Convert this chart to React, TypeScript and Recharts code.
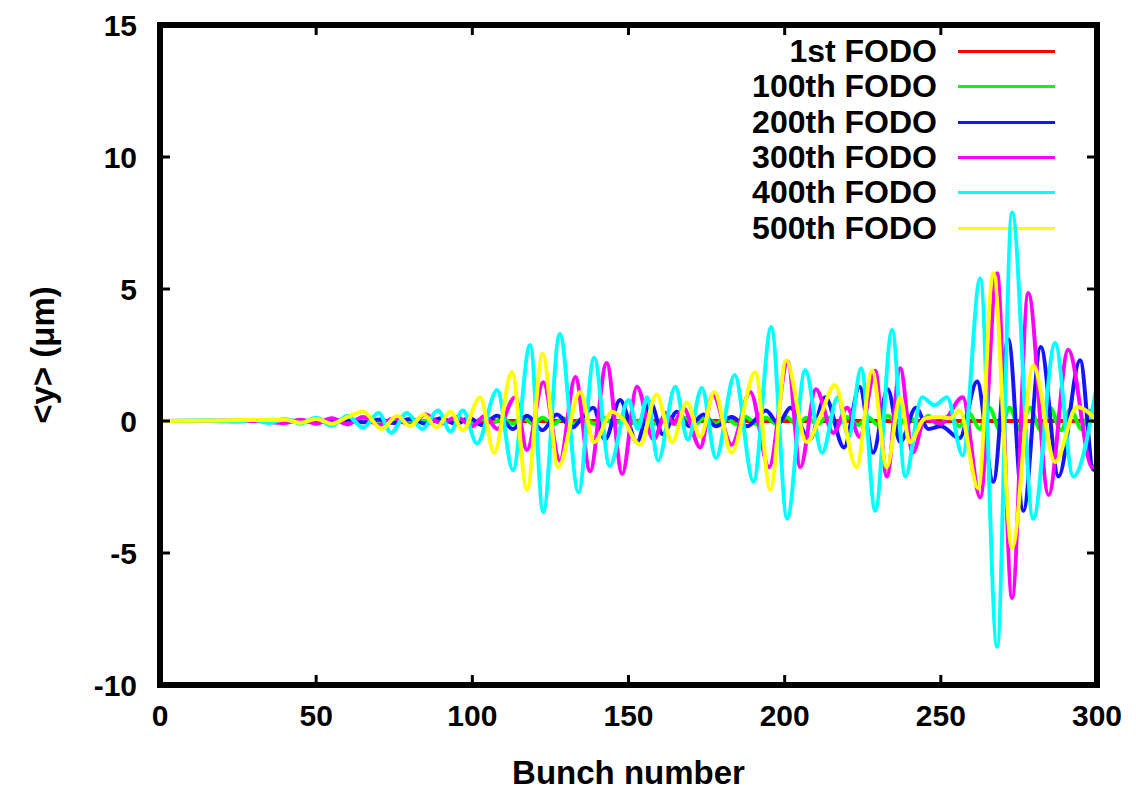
import React from "react";
import { LineChart, Line, XAxis, YAxis, Label, ReferenceLine } from "recharts";

const xTicks = [0, 50, 100, 150, 200, 250, 300];
const yTicks = [-10, -5, 0, 5, 10, 15];

const seriesNames = ["1st FODO", "100th FODO", "200th FODO", "300th FODO", "400th FODO", "500th FODO"];
const seriesColors = ["#ff0000", "#00ff00", "#1414ff", "#ff00ff", "#00ffff", "#ffff00"];

// [bunch, <y> in um]
const redPoints: [number, number][] = [[0, 0], [100, 0], [200, 0], [300, 0]];

const greenPoints: [number, number][] = [
  [0, 0], [30, 0], [60, 0.02], [80, -0.03], [90, 0.05], [93.5, -0.05], [96.5, 0.06], [100, -0.07],
  [103, 0.08], [106.5, -0.08], [109.5, 0.1], [113, -0.1], [116, 0.12], [119.5, -0.1], [122.5, 0.12],
  [126, -0.12], [129, 0.1], [132.5, -0.12], [135.5, 0.12], [139, -0.1], [142, 0.12], [145.5, -0.12],
  [148.5, 0.1], [152, -0.1], [155, 0.12], [158.5, -0.1], [161.5, 0.1], [165, -0.12], [168, 0.12],
  [171.5, -0.1], [174.5, 0.15], [178, -0.1], [181, 0.12], [184.5, -0.12], [187.5, 0.15], [191, -0.12],
  [194, 0.12], [197.5, -0.12], [200.5, 0.15], [204, -0.15], [207, 0.12], [210.5, -0.12], [213.5, 0.15],
  [217, -0.12], [220, 0.15], [223.5, -0.15], [226.5, 0.15], [230, -0.15], [233, 0.2], [236.5, -0.15],
  [239.5, 0.2], [243, -0.15], [246, 0.2], [249.5, -0.2], [252.5, 0.2], [256, -0.2], [259, 0.3],
  [262.5, -0.3], [265.5, 0.5], [269, -0.35], [272, 0.5], [275.5, -0.35], [278.5, 0.5], [282, -0.35],
  [285, 0.5], [288.5, -0.35], [291.5, 0.45], [295, -0.3], [298, 0.4], [300, 0.2],
];

const bluePoints: [number, number][] = [
  [0, 0], [40, 0.02], [50, -0.03], [60, 0.05], [65, -0.05], [70, 0.06], [75, -0.08], [80, 0.08],
  [85, -0.1], [90, 0.1], [95, -0.12], [99, 0.12], [103, -0.15], [108, 0.2], [113, -0.3], [117.5, 0.2],
  [122.5, -0.35], [127, 0.25], [132, -0.25], [135, 0.1], [138.7, 0.5], [142.5, -0.7], [147.3, 0.8],
  [152.7, -0.8], [157, 0.7], [161, -0.5], [165.5, 0.35], [169.5, -0.2], [174, 0.25], [178, -0.2],
  [183, 0.15], [188, -0.2], [194, 0.4], [198, -0.1], [201.8, 0.5], [208, -0.7], [213, 0.9], [219, -1.0],
  [224, 1.3], [228.3, -1.2], [233, 1.2], [237, -0.8], [242, 0.5], [246, -0.3], [250, -0.2], [256, -0.65],
  [261.6, 1.5], [266.8, -2.3], [271.6, 3.1], [276.4, -3.4], [282, 2.8], [287.7, -2.1], [294.6, 2.3],
  [298.9, -1.85], [300, -1.7],
];

const magentaPoints: [number, number][] = [
  [0, 0], [30, 0], [40, -0.08], [45, 0.05], [50, -0.1], [55, 0.1], [60, -0.12], [65, 0.15], [70, -0.15],
  [75, 0.1], [80, -0.15], [85, 0.25], [90, -0.1], [95, 0.15], [100, -0.2], [104, 0.2], [108, -0.3],
  [113.7, 0.9], [117.5, -1.1], [122.7, 1.47], [128, -1.5], [133, 1.67], [137.7, -1.9], [143, 2.2],
  [148, -2.0], [152.7, 1.3], [158, -0.7], [162, 0.3], [164.5, -0.1], [167.5, 0.5], [173, -1.0],
  [177, 1.0], [183, -0.9], [189, 1.1], [195, -1.75], [201, 2.25], [205, -1.75], [210, 1.2],
  [215.6, -0.45], [220, 0.5], [224, -0.6], [229, 1.9], [232.7, -2.1], [237, 2.0], [241, -1.2],
  [245, 0.1], [250, -0.1], [257, 0.9], [262.6, -2.9], [268, 5.6], [272.8, -6.7], [278, 4.85],
  [284.5, -2.8], [290.8, 2.7], [298.5, -1.75], [300, -1.6],
];

const cyanPoints: [number, number][] = [
  [0, 0], [15, 0.02], [25, -0.03], [30, 0.05], [35, -0.08], [40, 0.08], [45, -0.1], [50, 0.12],
  [55, -0.18], [60, 0.2], [65, -0.25], [70, 0.3], [74, -0.45], [79, 0.3], [84, -0.3], [89, 0.4],
  [93, -0.4], [97, 0.4], [101.5, -0.85], [108, 1.17], [113, -1.86], [118.5, 2.88], [122.7, -3.45],
  [128, 3.3], [134, -2.7], [139, 2.4], [144, -1.7], [150, 0.8], [153, -0.3], [156, 0.9], [159.5, -1.5],
  [165, 1.3], [169, -0.7], [173.5, 1.25], [178, -1.4], [184, 1.74], [190, -2.3], [195.7, 3.56],
  [200.8, -3.7], [206.6, 1.93], [212, -1.2], [217, 0.9], [220.5, -0.6], [224.5, 2.0], [229, -3.4],
  [234.4, 3.45], [238.6, -2.1], [244, 0.9], [248, 0.6], [252, 0.9], [257, -1.3], [262.6, 5.4],
  [268, -8.55], [272.8, 7.9], [279.6, -3.7], [286.6, 2.95], [292.4, -2.1], [300, 1.4],
];

const yellowPoints: [number, number][] = [
  [0, 0], [20, 0.02], [40, 0.05], [45, -0.07], [50, 0.08], [55, -0.1], [60, 0.15], [65, 0.35],
  [71, -0.3], [76, 0.2], [80, -0.2], [84.5, 0.25], [88.5, -0.25], [93, 0.35], [97, -0.35], [102.5, 0.9],
  [107, -1.2], [112.7, 1.86], [117.5, -2.6], [122.5, 2.55], [127.5, -1.75], [134.5, 1.1], [139, -0.8],
  [144.8, 0.35], [148, 0.1], [153.7, -0.9], [159, 1.0], [164, -0.8], [168.7, 0.7], [173, -0.6],
  [177.5, 1.1], [183, -1.2], [190.6, 1.86], [195.4, -2.6], [200.5, 2.3], [207, -0.8], [211.5, 0.2],
  [216, 1.36], [223, -1.75], [228, 1.9], [232.7, -1.75], [237, 0.9], [240, -0.8], [245, 0.1],
  [250, 0.15], [253, 0.1], [256, 0.4], [262, -2.55], [266.8, 5.6], [272.8, -4.8], [279.6, 2.1],
  [286.6, -1.55], [293.6, 0.53], [300, 0],
];

const allPoints = [redPoints, greenPoints, bluePoints, magentaPoints, cyanPoints, yellowPoints];

const series = allPoints.map((pts, i) => ({
  name: seriesNames[i],
  color: seriesColors[i],
  data: pts.map(([x, y]) => ({ x, y })),
}));

const X_MIN = xTicks[0];
const X_MAX = xTicks[xTicks.length - 1];
const Y_MIN = yTicks[0];
const Y_MAX = yTicks[yTicks.length - 1];
// inward tick length (10px) expressed in data units for the mirrored top/right ticks
const TICK_DX = (10 * (X_MAX - X_MIN)) / 937;
const TICK_DY = (10 * (Y_MAX - Y_MIN)) / 660;

const FONT = "'Liberation Sans', Arial, Helvetica, sans-serif";
const axisLine = { stroke: "#000", strokeWidth: 6, strokeLinecap: "square" as const };
const tickLine = { stroke: "#000", strokeWidth: 3 };
const tickStyle = { fill: "#000", fontSize: 30, fontWeight: 700, fontFamily: FONT };

function YLabel(props: any) {
  const vb = props.viewBox || { x: 0, y: 25, width: 160, height: 660 };
  const cx = vb.x + 42;
  const cy = vb.y + vb.height / 2;
  return (
    <text
      x={cx}
      y={cy}
      transform={`rotate(-90 ${cx} ${cy})`}
      textAnchor="middle"
      dominantBaseline="central"
      fontSize={33}
      fontWeight={700}
      fontFamily={FONT}
      fill="#000"
    >
      {"<y> (\u03bcm)"}
    </text>
  );
}

function FodoLegend() {
  return (
    <div style={{ position: "absolute", left: 600, top: 34, width: 470, fontFamily: FONT }}>
      {series.map((s) => (
        <div key={s.name} style={{ display: "flex", alignItems: "center", height: 35.3 }}>
          <span style={{ width: 337, textAlign: "right", fontSize: 32, fontWeight: 700, lineHeight: "35px", color: "#000" }}>
            {s.name}
          </span>
          <span style={{ width: 97, height: 3, marginLeft: 21, background: s.color }} />
        </div>
      ))}
    </div>
  );
}

export default function App() {
  return (
    <div style={{ position: "absolute", left: 0, top: 0, width: 1136, height: 790, background: "#fff" }}>
      <FodoLegend />
      <div style={{ position: "absolute", left: 0, top: 0 }}>
        <LineChart width={1136} height={790} margin={{ top: 25, right: 39, bottom: 0, left: 0 }}>
          <XAxis
            type="number"
            dataKey="x"
            domain={[X_MIN, X_MAX]}
            ticks={xTicks}
            height={105}
            tickSize={-10}
            tickMargin={30}
            axisLine={axisLine}
            tickLine={tickLine}
            tick={tickStyle}
            allowDuplicatedCategory={false}
          >
            <Label
              value="Bunch number"
              position="insideBottom"
              offset={6}
              style={{ fontSize: 33, fontWeight: 700, fontFamily: FONT, fill: "#000" }}
            />
          </XAxis>
          <YAxis
            type="number"
            domain={[Y_MIN, Y_MAX]}
            ticks={yTicks}
            width={160}
            tickSize={-10}
            tickMargin={33}
            axisLine={axisLine}
            tickLine={tickLine}
            tick={tickStyle}
          >
            <Label content={<YLabel />} />
          </YAxis>
          {series.map((s) => (
            <Line
              key={s.name}
              data={s.data}
              dataKey="y"
              name={s.name}
              type="monotone"
              stroke={s.color}
              strokeWidth={4}
              dot={false}
              activeDot={false}
              isAnimationActive={false}
            />
          ))}
          {/* top and right frame with inward ticks */}
          <ReferenceLine y={Y_MAX} stroke="#000" strokeWidth={6} strokeLinecap="square" />
          <ReferenceLine x={X_MAX} stroke="#000" strokeWidth={6} strokeLinecap="square" />
          {xTicks.slice(1, -1).map((t) => (
            <ReferenceLine
              key={`tx${t}`}
              segment={[{ x: t, y: Y_MAX }, { x: t, y: Y_MAX - TICK_DY }]}
              stroke="#000"
              strokeWidth={3}
            />
          ))}
          {yTicks.slice(1, -1).map((t) => (
            <ReferenceLine
              key={`ty${t}`}
              segment={[{ x: X_MAX, y: t }, { x: X_MAX - TICK_DX, y: t }]}
              stroke="#000"
              strokeWidth={3}
            />
          ))}
        </LineChart>
      </div>
    </div>
  );
}
